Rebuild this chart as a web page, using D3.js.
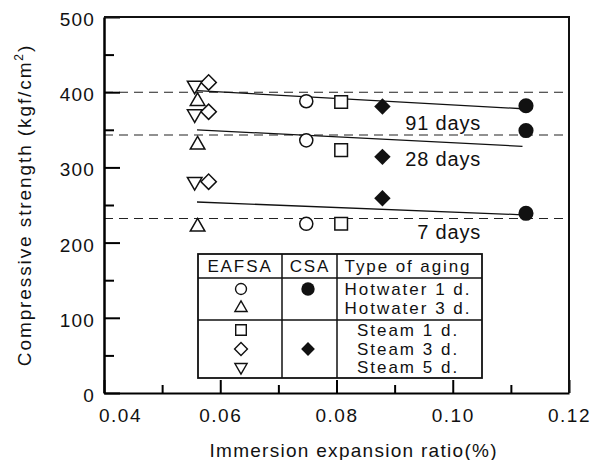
<!DOCTYPE html>
<html>
<head>
<meta charset="utf-8">
<script src="https://cdn.jsdelivr.net/npm/d3@7"></script>
<style>
body { margin: 0; background: #fff; }
text { font-family: "Liberation Sans", Arial, sans-serif; fill: #111; }
</style>
</head>
<body>
<svg id="chart" width="595" height="460"></svg>
<script>
// values
var ages = ["91 days", "28 days", "7 days"];
var agingTypes = ["Hotwater 1 d.", "Hotwater 3 d.", "Steam 1 d.", "Steam 3 d.", "Steam 5 d."];

// EAFSA, one entry per aging type : [91 d, 28 d, 7 d]
var eafsaShapes = ["circle", "triUp", "square", "diamond", "triDown"];
var eafsaX = [0.0748, 0.0561, 0.0808, 0.0580, 0.0556];
var eafsaVals = [[388, 336, 225], [388, 330, 221], [387, 323, 225], [413, 374, 281], [409, 371, 281]];

// CSA
var csaTypes = ["Hotwater 1 d.", "Steam 3 d."];
var csaShapes = ["circle", "diamond"];
var csaX = [0.1126, 0.0879];
var csaVals = [[382, 349, 239], [381, 314, 259]];

// dashed reference levels and fitted lines
var refLevels = [400, 343, 232];
var trendX = [0.056, 0.112];
var trendVals = [[402, 378], [350, 328], [254, 237]];
var ageLabelY = [350, 302, 205];

var xMajor = [0.04, 0.06, 0.08, 0.10, 0.12], xMinor = [0.05, 0.07, 0.09, 0.11];
var yMajor = [0, 100, 200, 300, 400, 500], yMinor = [50, 150, 250, 350, 450];

var svg = d3.select("#chart"),
	L = 104, T = 17, R = 569, B = 393;

var x = d3.scaleLinear().domain([0.04, 0.12]).range([L, R]);
var y = d3.scaleLinear().domain([0, 500]).range([B, T]);

function sym(shape, size) {
	var t = shape == "circle" ? d3.symbolCircle : (shape == "triUp" || shape == "triDown") ? d3.symbolTriangle : d3.symbolSquare;
	return d3.symbol().type(t).size(size)();
}
function rot(shape) { return shape == "diamond" ? 45 : shape == "triDown" ? 180 : 0; }
var sizes = { circle: 135, square: 160, diamond: 118, triUp: 92, triDown: 92 };

// dashed levels
svg.selectAll(".ref").data(refLevels).enter().append("line")
	.attr("x1", L).attr("x2", R)
	.attr("y1", function (d) { return y(d); }).attr("y2", function (d) { return y(d); })
	.attr("stroke", "#222").attr("stroke-width", 1.1).attr("stroke-dasharray", "9,6");

// trend lines
svg.selectAll(".trend").data(trendVals).enter().append("line")
	.attr("x1", x(trendX[0])).attr("x2", x(trendX[1]))
	.attr("y1", function (d) { return y(d[0]); }).attr("y2", function (d) { return y(d[1]); })
	.attr("stroke", "#111").attr("stroke-width", 1.3);

// axes, ticks inward
svg.append("g").attr("transform", "translate(" + L + ",0)")
	.call(d3.axisLeft(y).tickValues(yMajor).tickSize(-16).tickSizeOuter(0).tickPadding(9))
	.call(function (g) {
		g.selectAll("text").style("font-size", "19px").style("letter-spacing", "1.2px").attr("dy", "0.45em");
		g.selectAll("line").attr("stroke-width", 2);
		g.select(".domain").attr("stroke-width", 2.5);
	});
svg.append("g").attr("transform", "translate(" + L + ",0)")
	.call(d3.axisLeft(y).tickValues(yMinor).tickSize(-10).tickFormat(""))
	.call(function (g) { g.select(".domain").remove(); g.selectAll("line").attr("stroke-width", 2); });

svg.append("g").attr("transform", "translate(0," + B + ")")
	.call(d3.axisBottom(x).tickValues(xMajor).tickSize(-13).tickSizeOuter(0).tickPadding(16)
		.tickFormat(d3.format(".2f")))
	.call(function (g) {
		g.selectAll("text").style("font-size", "19px").style("letter-spacing", "1.5px")
			.attr("dx", function (d) { return d == 0.04 ? 16 : 0; });
		g.selectAll("line").attr("stroke-width", 2);
		g.select(".domain").attr("stroke-width", 2.2);
	});
svg.append("g").attr("transform", "translate(0," + B + ")")
	.call(d3.axisBottom(x).tickValues(xMinor).tickSize(-8).tickFormat(""))
	.call(function (g) { g.select(".domain").remove(); g.selectAll("line").attr("stroke-width", 2); });

// frame top and right
svg.append("path").attr("d", "M" + L + "," + T + "H" + R + "V" + B)
	.attr("fill", "none").attr("stroke", "#111").attr("stroke-width", 2);

// axis titles
svg.append("text").attr("x", 353).attr("y", 457).attr("text-anchor", "middle")
	.attr("textLength", 287).attr("lengthAdjust", "spacing")
	.style("font-size", "19px").text("Immersion expansion ratio(%)");

var yt = svg.append("text").attr("transform", "translate(31,205) rotate(-90)")
	.attr("text-anchor", "middle").style("font-size", "19px").style("letter-spacing", "1.9px");
yt.append("tspan").text("Compressive strength (kgf/cm");
yt.append("tspan").attr("dy", -8).style("font-size", "12px").text("2");
yt.append("tspan").attr("dy", 8).text(")");

// EAFSA points (open)
eafsaShapes.forEach(function (s, i) {
	svg.selectAll(".e" + i).data(eafsaVals[i]).enter().append("path")
		.attr("d", sym(s, sizes[s]))
		.attr("transform", function (d) { return "translate(" + x(eafsaX[i]) + "," + y(d) + ") rotate(" + rot(s) + ")"; })
		.attr("fill", "#fff").attr("stroke", "#111").attr("stroke-width", 1.5);
});

// CSA points (filled)
csaShapes.forEach(function (s, i) {
	svg.selectAll(".c" + i).data(csaVals[i]).enter().append("path")
		.attr("d", sym(s, s == "circle" ? 180 : 135))
		.attr("transform", function (d) { return "translate(" + x(csaX[i]) + "," + y(d) + ") rotate(" + rot(s) + ")"; })
		.attr("fill", "#111");
});

// age labels
svg.selectAll(".age").data(ages).enter().append("text")
	.attr("x", 481).attr("y", function (d, i) { return y(ageLabelY[i]); })
	.attr("text-anchor", "end").style("font-size", "20px").style("letter-spacing", "0.8px")
	.text(function (d) { return d; });

// legend table
var lg = svg.append("g");
var lx0 = 198, lx1 = 282, lx2 = 337, lx3 = 482, ly0 = 254, ly1 = 278, ly2 = 320, ly3 = 378;
lg.append("rect").attr("x", lx0).attr("y", ly0).attr("width", lx3 - lx0).attr("height", ly3 - ly0)
	.attr("fill", "#fff").attr("stroke", "#111").attr("stroke-width", 1.8);
[[lx0, ly1, lx3, ly1], [lx0, ly2, lx3, ly2], [lx1, ly0, lx1, ly3], [lx2, ly0, lx2, ly3]].forEach(function (p) {
	lg.append("line").attr("x1", p[0]).attr("y1", p[1]).attr("x2", p[2]).attr("y2", p[3])
		.attr("stroke", "#111").attr("stroke-width", 1.5);
});
var heads = ["EAFSA", "CSA", "Type of aging"], headX = [240, 310, 408];
heads.forEach(function (h, i) {
	lg.append("text").attr("x", headX[i]).attr("y", 272).attr("text-anchor", "middle")
		.style("font-size", "17px").style("letter-spacing", "1.9px").text(h);
});
var rowY = [289, 308, 330, 349, 367];
agingTypes.forEach(function (t, i) {
	lg.append("text").attr("x", 408).attr("y", rowY[i] + 6).attr("text-anchor", "middle")
		.style("font-size", "17px").style("letter-spacing", "2px").text(t);
	var s = eafsaShapes[i];
	lg.append("path").attr("d", sym(s, sizes[s] * 0.7))
		.attr("transform", "translate(241," + rowY[i] + ") rotate(" + rot(s) + ")")
		.attr("fill", "#fff").attr("stroke", "#111").attr("stroke-width", 1.4);
});
csaTypes.forEach(function (t, i) {
	var s = csaShapes[i], r = rowY[agingTypes.indexOf(t)];
	lg.append("path").attr("d", sym(s, s == "circle" ? 140 : 95))
		.attr("transform", "translate(308," + r + ") rotate(" + rot(s) + ")")
		.attr("fill", "#111");
});
</script>
</body>
</html>
